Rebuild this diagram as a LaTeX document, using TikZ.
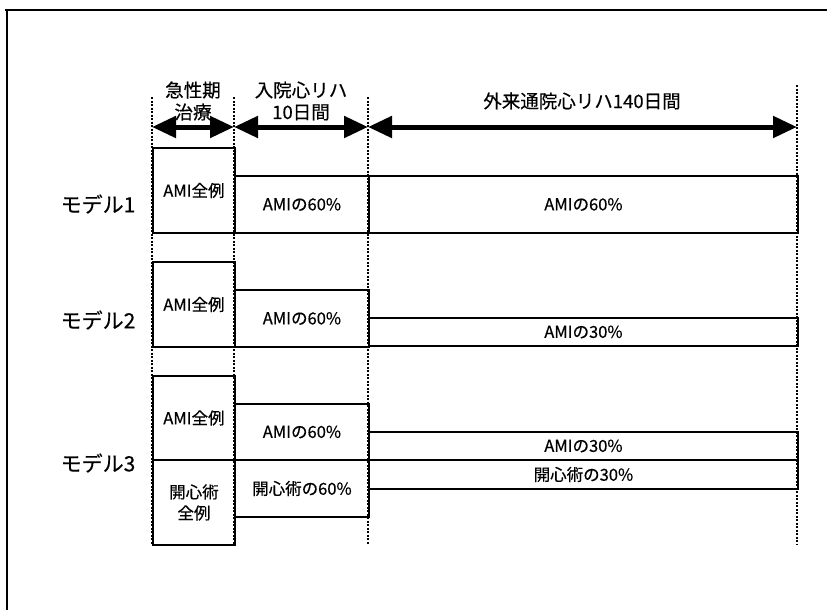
\documentclass[tikz,border=0pt]{standalone}
\usepackage{fontspec}
\setmainfont{Noto Sans CJK JP}[FakeBold=0.4,AutoFakeBold=0.4]
\usetikzlibrary{arrows.meta}
\begin{document}
\begin{tikzpicture}[x=1pt,y=-1pt,
  box/.style={draw, line width=1.9pt, inner sep=0pt, anchor=north west, align=center,
    font=\fontsize{16.5}{21}\selectfont\bfseries},
  dotline/.style={line width=2.2pt, dash pattern=on 2pt off 1.5pt},
  period/.style={line width=5pt, {Triangle[length=24pt,width=21pt]}-{Triangle[length=24pt,width=21pt]}},
  head/.style={align=center, font=\fontsize{18.5}{22}\selectfont\bfseries},
  model/.style={font=\fontsize{21}{24}\selectfont\bfseries},
  frame/.style={line width=1.6pt}]
\useasboundingbox (0,0) rectangle (827,610);
% frame
\coordinate (f1) at (5,10);
\coordinate (f2) at (827,10);
\coordinate (f3) at (7,10);
\coordinate (f4) at (7,610);
\draw[frame] (f1) -- (f2);
\draw[frame] (f3) -- (f4);
% dotted phase boundaries
\coordinate (t1) at (152,97);  \coordinate (b1) at (152,545);
\coordinate (t2) at (234,97);  \coordinate (b2) at (234,545);
\coordinate (t3) at (368,97);  \coordinate (b3) at (368,545);
\coordinate (t4) at (797,85);  \coordinate (b4) at (797,545);
\draw[dotline] (t1) -- (b1);
\draw[dotline] (t2) -- (b2);
\draw[dotline] (t3) -- (b3);
\draw[dotline] (t4) -- (b4);
% period arrows
\coordinate (a1) at (152,127);
\coordinate (a2) at (234,127);
\coordinate (a3) at (368,127);
\coordinate (a4) at (797,127);
\draw[period] (a1) -- (a2);
\draw[period] (a2) -- (a3);
\draw[period] (a3) -- (a4);
% headers
\node[head] (h1) at (193,101) {急性期\\治療};
\node[head] (h2) at (301,101) {入院心リハ\\10日間};
\node[head] (h3) at (582,101) {外来通院心リハ140日間};
% model labels
\node[model] (l1) at (98,204) {モデル1};
\node[model] (l2) at (98,320) {モデル2};
\node[model] (l3) at (98,463) {モデル3};
% model 1
\node[box, minimum width=82pt, minimum height=85pt] (m1a) at (152,147) {AMI全例};
\node[box, minimum width=134pt, minimum height=57pt] (m1b) at (234,175) {AMIの60\%};
\node[box, minimum width=429pt, minimum height=57pt] (m1c) at (368,175) {AMIの60\%};
% model 2
\node[box, minimum width=82pt, minimum height=85pt] (m2a) at (152,261) {AMI全例};
\node[box, minimum width=134pt, minimum height=57pt] (m2b) at (234,289) {AMIの60\%};
\node[box, minimum width=429pt, minimum height=28pt] (m2c) at (368,317) {AMIの30\%};
% model 3
\node[box, minimum width=82pt, minimum height=84pt] (m3a) at (152,375) {AMI全例};
\node[box, minimum width=82pt, minimum height=85pt] (m3b) at (152,459) {開心術\\全例};
\node[box, minimum width=134pt, minimum height=56pt] (m3c) at (234,403) {AMIの60\%};
\node[box, minimum width=134pt, minimum height=57pt] (m3d) at (234,459) {開心術の60\%};
\node[box, minimum width=429pt, minimum height=28pt] (m3e) at (368,431) {AMIの30\%};
\node[box, minimum width=429pt, minimum height=29pt] (m3f) at (368,459) {開心術の30\%};
\end{tikzpicture}
\end{document}
